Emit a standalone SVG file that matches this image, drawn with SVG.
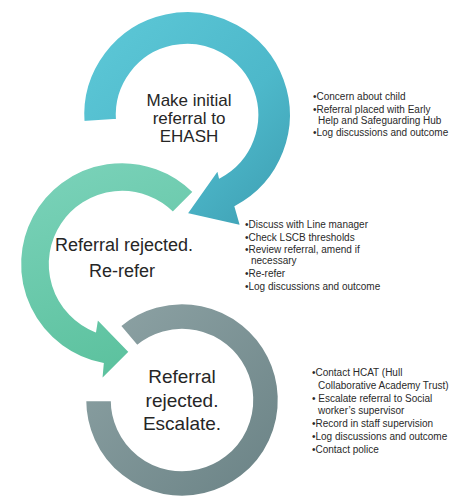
<svg xmlns="http://www.w3.org/2000/svg" width="458" height="501" viewBox="0 0 458 501">
<defs>
<linearGradient id="gBlue" x1="0" y1="0" x2="1" y2="1">
<stop offset="0" stop-color="#5ec9d8"/>
<stop offset="0.6" stop-color="#4db8ca"/>
<stop offset="1" stop-color="#3d9db1"/>
</linearGradient>
<linearGradient id="gGreen" x1="0" y1="0" x2="0.3" y2="1">
<stop offset="0" stop-color="#7cd3bb"/>
<stop offset="1" stop-color="#5dc29f"/>
</linearGradient>
<linearGradient id="gGray" x1="0" y1="0" x2="1" y2="1">
<stop offset="0" stop-color="#8fa4a6"/>
<stop offset="1" stop-color="#6a8285"/>
</linearGradient>
<style>
.ring{stroke:#ffffff;stroke-width:2.5;stroke-linejoin:miter}
.big{font-family:"Liberation Sans",Arial,sans-serif;fill:#262626;text-anchor:middle}
.list{font-family:"Liberation Sans",Arial,sans-serif;font-size:10px;fill:#2a2a2a}
</style>
</defs>
<rect width="458" height="501" fill="#ffffff"/>
<g id="connectors">
<path id="arrow-escalate" class="ring" fill="url(#gGray)" d="M119.6,325.7 A97,97 0 1 1 85,400 L112,400 A70,70 0 1 0 137,346.4 Z"/>
<path id="arrow-rerefer" class="ring" fill="url(#gGreen)" d="M194.1,191.9 A102,102 0 1 0 102.5,364.1 L101,381 L130,352 L97,318 L95,330.8 A72,72 0 1 1 172.9,213.1 Z"/>
<path id="arrow-initial" class="ring" fill="url(#gBlue)" d="M83.3,122.3 A104,104 0 1 1 235.8,206.8 L241.4,226.5 L186,214 L218,168.7 L219.9,176.8 A70,70 0 1 0 117.2,119.9 Z"/>
</g>
<g id="node-initial">
<text class="big" font-size="17" x="189" y="106">Make initial</text>
<text class="big" font-size="17" x="189" y="124">referral to</text>
<text class="big" font-size="17" x="189" y="142">EHASH</text>
</g>
<g id="node-rerefer">
<text class="big" font-size="18" x="124" y="251">Referral rejected.</text>
<text class="big" font-size="18" x="122" y="277">Re-refer</text>
</g>
<g id="node-escalate">
<text class="big" font-size="19" x="182" y="383">Referral</text>
<text class="big" font-size="19" x="182" y="407">rejected.</text>
<text class="big" font-size="19" x="182" y="430">Escalate.</text>
</g>
<g id="notes-initial">
<text class="list" x="313" y="100">•Concern about child</text>
<text class="list" x="313" y="113">•Referral placed with Early</text>
<text class="list" x="318" y="124">Help and Safeguarding Hub</text>
<text class="list" x="313" y="136">•Log discussions and outcome</text>
</g>
<g id="notes-rerefer">
<text class="list" x="245" y="228">•Discuss with Line manager</text>
<text class="list" x="245" y="241">•Check LSCB thresholds</text>
<text class="list" x="245" y="253">•Review referral, amend if</text>
<text class="list" x="251" y="264">necessary</text>
<text class="list" x="245" y="277">•Re-refer</text>
<text class="list" x="245" y="290">•Log discussions and outcome</text>
</g>
<g id="notes-escalate">
<text class="list" x="312" y="376">•Contact HCAT (Hull</text>
<text class="list" x="318" y="389">Collaborative Academy Trust)</text>
<text class="list" x="312" y="402">• Escalate referral to Social</text>
<text class="list" x="318" y="414">worker’s supervisor</text>
<text class="list" x="312" y="427">•Record in staff supervision</text>
<text class="list" x="312" y="440">•Log discussions and outcome</text>
<text class="list" x="312" y="453">•Contact police</text>
</g>
</svg>
